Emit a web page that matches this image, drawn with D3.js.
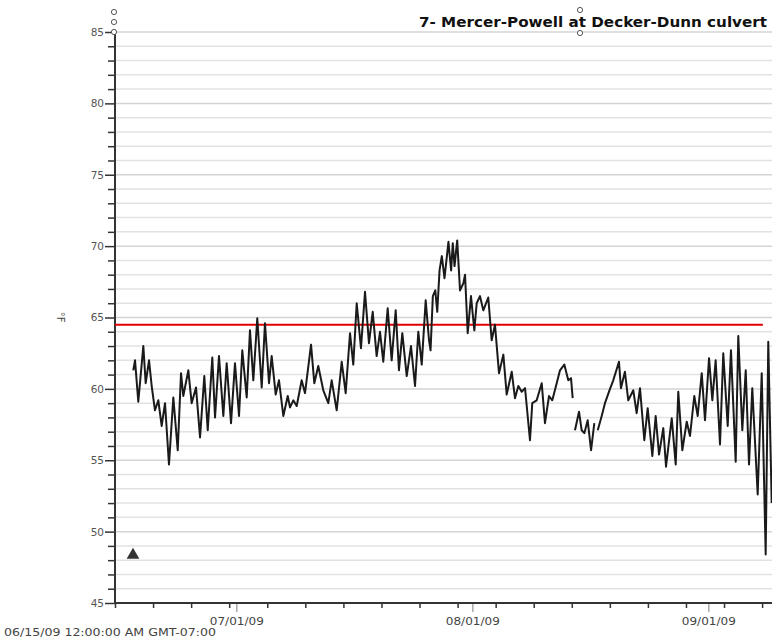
<!DOCTYPE html>
<html><head><meta charset="utf-8">
<script src="https://cdn.jsdelivr.net/npm/d3@7"></script>
<style>body{margin:0;background:#fff}svg{display:block}</style>
</head><body>
<svg id="c" width="772" height="644"></svg>
<script>
// ---- data ----
const title = "7- Mercer-Powell at Decker-Dunn culvert";
const startLabel = "06/15/09 12:00:00 AM GMT-07:00";
const unitLabel = "°F";
const startDate = "2009-06-15";
// days since 06/15/09 00:00 (null temp = gap in record)
const days = [2.40,2.63,3.06,3.72,4.03,4.47,4.82,5.25,5.69,6.13,6.57,7.09,7.66,8.24,8.67,8.97,9.63,10.07,10.64,11.17,11.73,12.18,12.78,13.14,13.66,14.23,14.67,15.24,15.76,16.29,16.72,17.30,17.73,18.17,18.69,19.27,19.70,20.23,20.58,21.11,21.54,22.11,22.69,22.99,23.42,23.87,24.52,24.96,25.75,26.18,26.70,27.36,28.02,28.46,29.12,29.78,30.30,30.87,31.30,31.75,32.31,32.84,33.36,33.85,34.37,34.81,35.24,35.82,36.34,36.87,37.30,37.74,38.32,38.88,39.41,39.84,40.29,40.81,41.25,41.45,41.75,42.07,42.33,42.63,42.93,43.28,43.80,44.15,44.37,44.60,44.95,45.32,45.76,45.98,46.33,46.76,47.20,47.51,47.94,48.38,49.03,49.48,49.91,50.44,51.01,51.45,52.11,52.54,52.98,53.42,53.86,54.51,54.81,55.39,56.05,56.48,57.01,57.44,58.02,58.45,59.02,59.54,59.90,60.12,60.27,60.42,60.95,61.30,61.65,62.09,62.53,62.96,63.20,63.41,63.93,64.36,65.02,65.45,66.20,66.46,66.98,67.42,68.08,68.52,68.96,69.53,69.97,70.58,71.02,71.46,72.02,72.38,73.13,73.65,73.99,74.52,75.10,75.53,76.09,76.54,77.07,77.50,78.03,78.46,78.90,79.47,79.90,80.48,80.91,81.53,81.87,82.40,82.85,83.28,83.71,84.42,84.95,85.47,85.81,86.26];
const temps = [61.3,62.0,59.1,63.0,60.4,62.0,60.2,58.5,59.2,57.4,59.0,54.7,59.4,55.7,61.1,59.5,61.3,59.0,60.1,56.6,60.9,57.1,62.2,58.0,62.3,58.1,61.8,57.6,61.8,58.1,62.7,59.4,64.1,60.6,64.95,60.1,64.6,60.4,62.3,59.6,60.6,58.1,59.5,58.7,59.2,58.8,60.6,59.7,63.1,60.4,61.6,59.9,59.0,60.6,58.5,61.9,59.7,63.9,61.7,66.0,62.85,66.8,63.2,65.4,62.3,64.0,61.9,65.65,62.0,65.5,61.3,63.9,60.9,63.0,60.2,64.0,61.7,66.2,63.4,62.7,66.5,66.9,65.4,68.3,69.3,67.75,70.3,68.3,70.2,68.6,70.4,66.9,67.4,68.0,63.9,66.5,64.1,66.0,66.5,65.5,66.4,63.4,64.5,61.1,62.4,59.6,61.2,59.35,60.2,59.8,60.05,56.4,59.0,59.2,60.4,57.6,59.5,59.2,60.4,61.3,61.7,60.6,60.75,59.35,null,57.1,58.4,57.1,56.9,57.8,55.7,57.6,null,57.1,58.1,59.0,60.0,60.6,61.9,60.05,61.2,59.2,59.9,58.3,60.05,56.4,58.65,55.3,58.1,55.4,57.25,54.55,57.95,54.7,59.8,55.7,57.7,56.7,59.5,58.1,61.1,57.8,62.15,59.2,62.0,56.1,62.5,57.4,62.7,54.9,63.7,57.1,61.3,54.7,60.05,52.6,61.1,48.4,63.3,52.0];
const threshold = 64.5;
const yMin = 45, yMax = 85;
const yLabelStep = 5;
const monthTicks = ["2009-07-01","2009-08-01","2009-09-01"];
const monthLabels = ["07/01/09","08/01/09","09/01/09"];
const minorTickDays = 5;
const spanDays = 86.3;

// ---- chart ----
const svg = d3.select("#c");
const L = 115, R = 772, T = 32, B = 603;
const t0 = new Date(startDate + "T00:00:00Z");
const toDate = d => new Date(t0.getTime() + d * 864e5);
const x = d3.scaleUtc().domain([t0, toDate(spanDays)]).range([L, R]);
const y = d3.scaleLinear().domain([yMin, yMax]).range([B, T]);
const font = "Tahoma, 'DejaVu Sans', Verdana, sans-serif";

// gridlines
svg.append("g").selectAll("line").data(d3.range(yMin + 1, yMax + 1))
  .join("line").attr("x1", L).attr("x2", R)
  .attr("y1", d => y(d)).attr("y2", d => y(d))
  .attr("stroke", d => d % 5 === 0 ? "#d4d4d4" : "#e2e2e2").attr("stroke-width", 1.5);

// y axis
const yAxis = d3.axisLeft(y).tickValues(d3.range(yMin, yMax + 1))
  .tickFormat(d => d % yLabelStep === 0 ? d : "").tickSize(8).tickPadding(2);
const gy = svg.append("g").attr("transform", `translate(${L},0)`).call(yAxis);
gy.select(".domain").remove();
gy.selectAll(".tick line").attr("stroke", "#333").attr("stroke-width", 1.5)
  .attr("x2", d => d % yLabelStep === 0 ? -10 : -7);
gy.selectAll(".tick text").attr("font-family", font).attr("font-size", 10.5)
  .attr("fill", "#555").attr("x", -11);
svg.append("line").attr("x1", L).attr("x2", L).attr("y1", T - 2).attr("y2", B)
  .attr("stroke", "#333").attr("stroke-width", 2);

// x axis minor ticks
const minor = d3.range(0, spanDays, minorTickDays).map(toDate);
const xAxis = d3.axisBottom(x).tickValues(minor).tickFormat("").tickSize(5);
const gx = svg.append("g").attr("transform", `translate(0,${B})`).call(xAxis);
gx.select(".domain").remove();
gx.selectAll(".tick line").attr("stroke", "#333").attr("stroke-width", 1.5);
// month ticks and labels
const mDates = monthTicks.map(s => new Date(s + "T00:00:00Z"));
svg.append("g").selectAll("line").data(mDates).join("line")
  .attr("x1", d => x(d)).attr("x2", d => x(d)).attr("y1", B).attr("y2", B + 9)
  .attr("stroke", "#aaa").attr("stroke-width", 1.5);
svg.append("g").selectAll("text").data(mDates).join("text")
  .attr("x", d => x(d)).attr("y", B + 22).attr("text-anchor", "middle")
  .attr("font-family", font).attr("font-size", 11).attr("fill", "#444")
  .attr("textLength", 54).attr("lengthAdjust", "spacingAndGlyphs")
  .text((d, i) => monthLabels[i]);
svg.append("line").attr("x1", L).attr("x2", R).attr("y1", B).attr("y2", B)
  .attr("stroke", "#333").attr("stroke-width", 2);

// threshold line
svg.append("line").attr("x1", L).attr("x2", x(toDate(85.1))).attr("y1", y(threshold)).attr("y2", y(threshold))
  .attr("stroke", "#e00000").attr("stroke-width", 2);

// data line
const pts = days.map((d, i) => ({ t: toDate(d), v: temps[i] }));
const line = d3.line().defined(p => p.v !== null).x(p => x(p.t)).y(p => y(p.v));
svg.append("path").datum(pts).attr("d", line).attr("fill", "none")
  .attr("stroke", "#1a1a1a").attr("stroke-width", 2).attr("stroke-linejoin", "round");

// title
svg.append("text").attr("x", 767).attr("y", 27).attr("text-anchor", "end")
  .attr("font-family", font).attr("font-weight", "bold").attr("font-size", 14.5)
  .attr("textLength", 348).attr("lengthAdjust", "spacingAndGlyphs")
  .attr("fill", "#111").text(title);
// handles
[[114, 12], [114, 22], [114, 32], [580, 10], [580, 33]].forEach(([cx, cy]) =>
  svg.append("circle").attr("cx", cx).attr("cy", cy).attr("r", 2.6)
    .attr("fill", "#fff").attr("stroke", "#555").attr("stroke-width", 1));

// unit label
svg.append("text").attr("transform", "translate(57,317) rotate(90)")
  .attr("text-anchor", "middle").attr("font-family", font).attr("font-size", 10)
  .attr("fill", "#444").text(unitLabel);

// triangle marker
svg.append("path").attr("d", d3.symbol(d3.symbolTriangle, 70)())
  .attr("transform", "translate(133,555)").attr("fill", "#333");

// start label
svg.append("text").attr("x", 4).attr("y", 636).attr("font-family", font)
  .attr("font-size", 10.5).attr("fill", "#444")
  .attr("textLength", 212).attr("lengthAdjust", "spacingAndGlyphs").text(startLabel);
</script>
</body></html>
